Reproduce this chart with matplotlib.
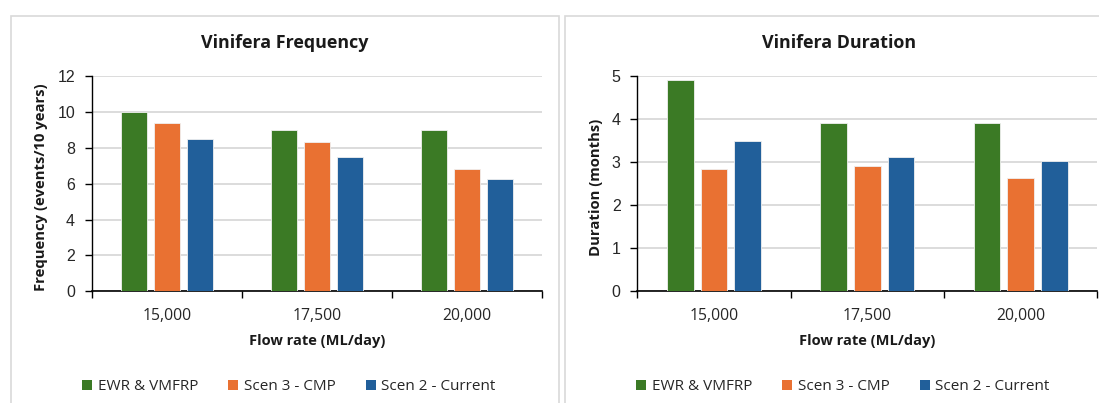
import matplotlib
matplotlib.use("Agg")
import matplotlib.pyplot as plt
from matplotlib.patches import Rectangle, Patch
import numpy as np

# Data
flow_rates = ["15,000", "17,500", "20,000"]
series_names = ["EWR & VMFRP", "Scen 3 - CMP", "Scen 2 - Current"]
freq_ewr = [10.0, 9.0, 9.0]
freq_scen3 = [9.4, 8.3, 6.8]
freq_scen2 = [8.5, 7.5, 6.25]
dur_ewr = [4.9, 3.9, 3.9]
dur_scen3 = [2.85, 2.9, 2.62]
dur_scen2 = [3.48, 3.11, 3.03]
freq_ticks = [0, 2, 4, 6, 8, 10, 12]
dur_ticks = [0, 1, 2, 3, 4, 5]

colors = ["#3B7A25", "#E97132", "#215F9A"]
text_font = "Open Sans"
num_font = "Liberation Sans"

W, H = 1099, 403
fig = plt.figure(figsize=(W / 100, H / 100), dpi=100)


def fx(px):
    return px / W


def fy(py):
    return 1 - py / H


# Chart-area frames
fig.patches.append(Rectangle((fx(10.7), fy(420)), fx(548), 404 / H, transform=fig.transFigure,
                             fill=False, edgecolor="#d9d9d9", linewidth=1.2))
fig.patches.append(Rectangle((fx(565), fy(420)), fx(560), 404 / H, transform=fig.transFigure,
                             fill=False, edgecolor="#d9d9d9", linewidth=1.2))


def draw_panel(left_px, right_px, title, ylabel, series, ymax, ticks,
               title_x, legend_x, ylabel_x):
    ax = fig.add_axes([fx(left_px), fy(291.3), fx(right_px - left_px), (291.3 - 76) / H])
    x = np.arange(len(flow_rates))
    offsets = [-0.22, 0.0, 0.22]
    for vals, off, col, name in zip(series, offsets, colors, series_names):
        ax.bar(x + off, vals, width=0.174, color=col, edgecolor="#f0f0f0", linewidth=0.6,
               label=name, zorder=3)
    ax.set_xlim(-0.5, len(flow_rates) - 0.5)
    ax.set_ylim(0, ymax)
    ax.set_yticks(ticks)
    ax.set_yticklabels([str(t) for t in ticks], fontfamily=num_font, fontsize=11.5, color="#262626")
    ax.yaxis.grid(True, color="#d9d9d9", linewidth=1.3, zorder=0)
    ax.set_axisbelow(True)
    ax.set_xticks(x)
    ax.set_xticklabels(flow_rates, fontfamily=text_font, fontsize=11.3, color="#262626")
    ax.tick_params(axis="x", length=0, pad=12)
    ax.set_xticks(np.arange(-0.5, len(flow_rates)), minor=True)
    ax.tick_params(axis="x", which="minor", length=5, width=1, color="black", direction="out")
    ax.tick_params(axis="y", length=5, width=1, color="black", direction="out", pad=7)
    for s in ["top", "right"]:
        ax.spines[s].set_visible(False)
    ax.spines["left"].set_linewidth(1)
    ax.spines["bottom"].set_linewidth(1.2)
    ax.set_xlabel("Flow rate (ML/day)", fontfamily=text_font, fontweight="bold", fontsize=10.5,
                  color="#1a1a1a", va="center")
    ax.xaxis.set_label_coords(fx((left_px + right_px) / 2), fy(341.5), transform=fig.transFigure)
    ax.set_ylabel(ylabel, fontfamily=text_font, fontweight="bold", fontsize=10.7,
                  color="#1a1a1a", va="center")
    ax.yaxis.set_label_coords(fx(ylabel_x), fy(187), transform=fig.transFigure)
    fig.text(fx(title_x), fy(43.3), title, ha="center", va="center", fontfamily=text_font,
             fontweight="bold", fontsize=12.9, color="#1a1a1a")
    handles = [Patch(facecolor=c, edgecolor="none") for c in colors]
    fig.legend(handles, series_names, loc="center", bbox_to_anchor=(fx(legend_x), fy(386.5)),
               ncol=3, frameon=False, prop={"family": text_font, "size": 11},
               handlelength=0.65, handleheight=0.65, handletextpad=0.35, columnspacing=2.0,
               labelcolor="#262626")
    return ax


draw_panel(91.7, 541.7, "Vinifera Frequency", "Frequency (events/10 years)",
           [freq_ewr, freq_scen3, freq_scen2], 12, freq_ticks, 285, 289, 41.1)
draw_panel(637.3, 1097.3, "Vinifera Duration", "Duration (months)",
           [dur_ewr, dur_scen3, dur_scen2], 5, dur_ticks, 839, 843, 596)

fig.savefig("out.png", dpi=100, facecolor="white")
